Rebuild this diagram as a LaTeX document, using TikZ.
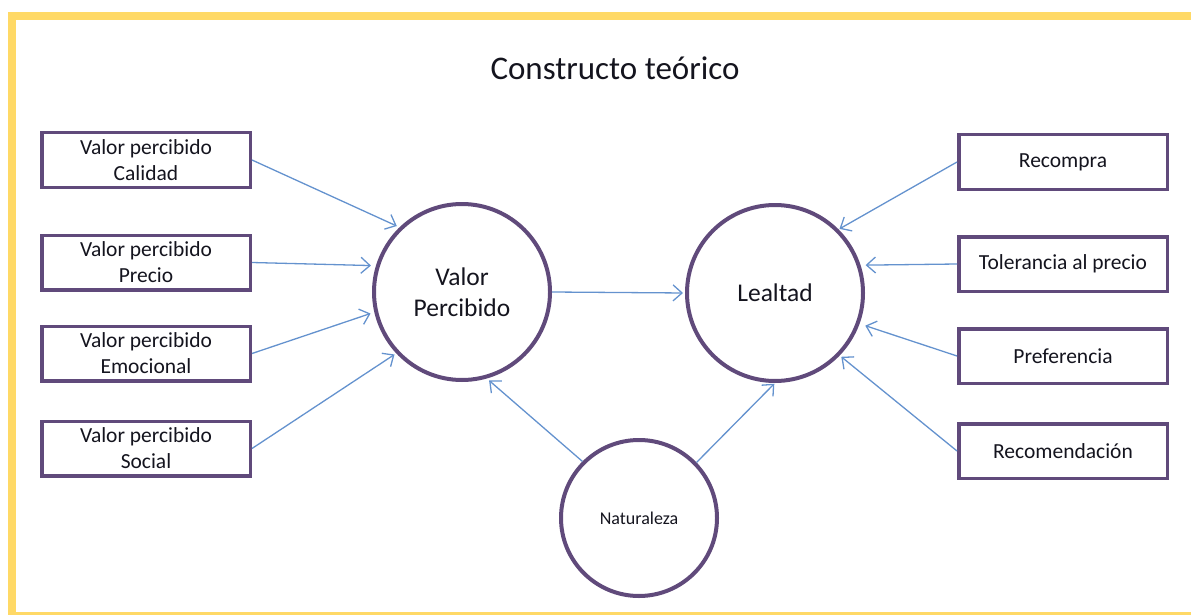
\documentclass[tikz,border=0pt]{standalone}
\usepackage{fontspec}
\setmainfont{Carlito}
\usetikzlibrary{arrows.meta}
\definecolor{frameyellow}{RGB}{255,217,102}
\definecolor{boxpurple}{RGB}{96,74,123}
\definecolor{arrowblue}{RGB}{100,146,206}
\definecolor{textdark}{RGB}{20,20,30}
\begin{document}
\begin{tikzpicture}[x=1pt,y=-1pt,
  itembox/.style={draw=boxpurple,line width=3.5pt,minimum width=208.5pt,minimum height=54.5pt,inner sep=0pt,align=center,text=textdark,font=\fontsize{21.5}{26}\selectfont},
  bigcircle/.style={draw=boxpurple,line width=4pt,circle,minimum size=176pt,inner sep=0pt,align=center,text=textdark,font=\fontsize{25.5}{31}\selectfont},
  smallcircle/.style={draw=boxpurple,line width=4pt,circle,minimum size=156pt,inner sep=0pt,text=textdark,font=\fontsize{18}{22}\selectfont},
  link/.style={draw=arrowblue,line width=1.3pt,-{Straight Barb[length=9pt,width=16pt,line width=1.3pt]}}
]
\useasboundingbox (0,0) rectangle (1191,615);
\draw[frameyellow,line width=8pt] (1210,16) -- (12,16) -- (12,616) -- (1210,616);

\node[font=\fontsize{33}{40}\selectfont,text=textdark] (title) at (615,68) {Constructo teórico};

\node[itembox] (b1) at (146,160) {Valor percibido\\Calidad};
\node[itembox] (b2) at (146,262.5) {Valor percibido\\Precio};
\node[itembox] (b3) at (146,353.5) {Valor percibido\\Emocional};
\node[itembox] (b4) at (146,448.5) {Valor percibido\\Social};

\node[itembox] (r1) at (1063,162) {Recompra};
\node[itembox] (r2) at (1063,264) {Tolerancia al precio};
\node[itembox] (r3) at (1063,356) {Preferencia};
\node[itembox] (r4) at (1063,451) {Recomendación};

\node[bigcircle] (vp) at (462,292) {Valor\\Percibido};
\node[bigcircle] (le) at (775,293) {Lealtad};
\node[smallcircle] (na) at (639,518) {Naturaleza};

\draw[link,shorten >=3pt] (b1.east) -- (vp.134);
\draw[link,shorten >=5pt] (b2.east) -- (vp.163);
\draw[link,shorten >=4pt] (b3.east) -- (vp.193);
\draw[link,shorten >=2pt] (b4.east) -- (vp.223);

\draw[link,shorten >=2pt] (vp.east) -- (le.west);

\draw[link,shorten >=1pt] (r1.west) -- (le.45);
\draw[link,shorten >=5pt] (r2.west) -- (le.18);
\draw[link,shorten >=6pt] (r3.west) -- (le.-20);
\draw[link,shorten >=2pt] (r4.west) -- (le.-44);

\draw[link,shorten >=3pt] (na.135) -- (vp.286);
\draw[link,shorten >=1pt] (na.44) -- (le.270);
\end{tikzpicture}
\end{document}
